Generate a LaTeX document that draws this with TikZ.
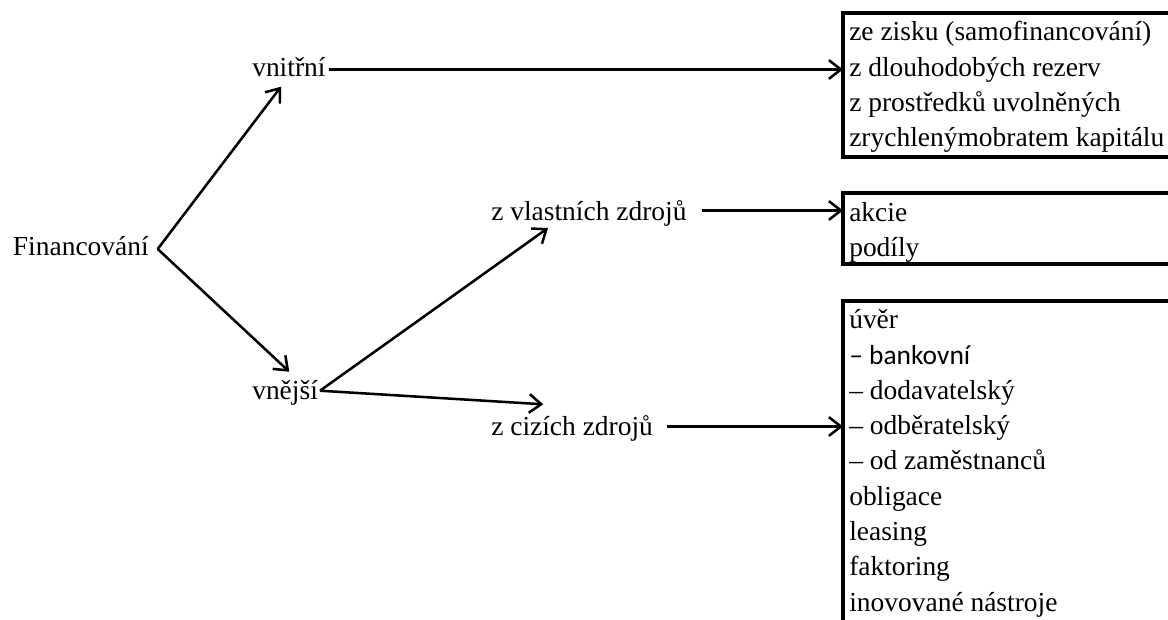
\documentclass[tikz,border=0pt]{standalone}
\usepackage{fontspec}
\setmainfont{Liberation Serif}
\newfontfamily\calibrilike{Carlito}
\usetikzlibrary{arrows.meta}
\begin{document}
\begin{tikzpicture}[x=0.75pt,y=-0.75pt,
  lbl/.style={anchor=base west,inner sep=0pt,font=\fontsize{20.6}{24}\selectfont},
  conn/.style={line width=1.9pt,-{Straight Barb[length=9pt,width=14pt,line width=1.9pt]}},
  boxline/.style={line width=2.6pt}]
\useasboundingbox (0,0) rectangle (1168,619);
\clip (0,0) rectangle (1168,619);
% boxes
\draw[boxline] (1180,13) -- (843,13) -- (843,157) -- (1180,157);
\draw[boxline] (1180,193) -- (843,193) -- (843,264) -- (1180,264);
\draw[boxline] (1180,301) -- (843,301) -- (843,640);
% left labels
\node[lbl] (fin) at (12.7,255) {Financování};
\node[lbl] (vni) at (252,76) {vnitřní};
\node[lbl] (vne) at (252,399) {vnější};
\node[lbl] (vla) at (491,220) {z vlastních zdrojů};
\node[lbl] (ciz) at (491,435.7) {z cizích zdrojů};
% box texts
\node[lbl] (t1) at (849,40.7) {ze zisku (samofinancování)};
\node[lbl] (t2) at (849,76) {z dlouhodobých rezerv};
\node[lbl] (t3) at (849,111.3) {z prostředků uvolněných};
\node[lbl] (t4) at (849,146.6) {zrychlenýmobratem kapitálu};
\node[lbl] (m1) at (849,221.7) {akcie};
\node[lbl] (m2) at (849,256.7) {podíly};
\node[lbl] (b1) at (849,328.3) {úvěr};
\node[lbl,font=\calibrilike\fontsize{20.6}{24}\selectfont] (b2) at (849,364) {– bankovní};
\node[lbl] (b3) at (849,399.3) {– dodavatelský};
\node[lbl] (b4) at (849,434.6) {– odběratelský};
\node[lbl] (b5) at (849,469.9) {– od zaměstnanců};
\node[lbl] (b6) at (849,505.2) {obligace};
\node[lbl] (b7) at (849,540.5) {leasing};
\node[lbl] (b8) at (849,575.8) {faktoring};
\node[lbl] (b9) at (849,611.1) {inovované nástroje};
% connector points
\coordinate (finR) at (157.7,249);
\coordinate (vniTip) at (281,86.7);
\coordinate (vneTip) at (289.3,371.7);
\coordinate (vniR) at (329,69.5);
\coordinate (boxA) at (843,69.5);
\coordinate (vneR) at (320,390.7);
\coordinate (vlaTip) at (548,228);
\coordinate (cizTip) at (543.3,404.3);
\coordinate (vlaR) at (701.7,210.5);
\coordinate (boxB) at (843,210.5);
\coordinate (cizR) at (666.7,426.5);
\coordinate (boxC) at (843,426.5);
% connectors
\draw[conn] (finR) -- (vniTip);
\draw[conn] (finR) -- (vneTip);
\draw[conn] (vniR) -- (boxA);
\draw[conn] (vneR) -- (vlaTip);
\draw[conn] (vneR) -- (cizTip);
\draw[conn] (vlaR) -- (boxB);
\draw[conn] (cizR) -- (boxC);
\end{tikzpicture}
\end{document}
